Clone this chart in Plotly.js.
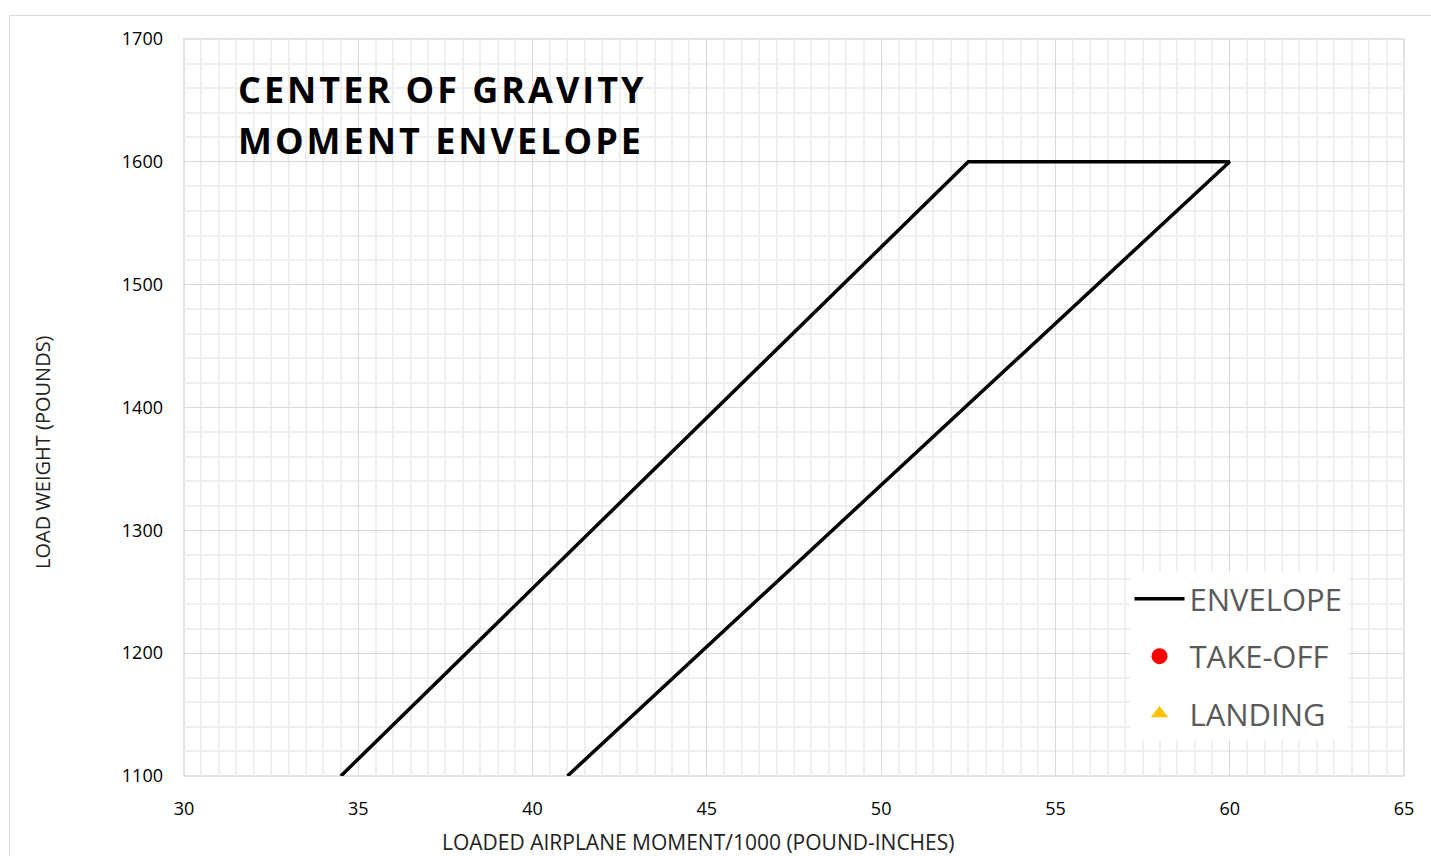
<!DOCTYPE html>
<html><head><meta charset="utf-8">
<script src="https://cdn.plot.ly/plotly-3.0.1.min.js"></script>
<style>
html,body{margin:0;padding:0;background:#fff;}
#frame{position:absolute;left:9px;top:15px;width:1440px;height:900px;border:1.5px solid #d9d9d9;box-sizing:border-box;}
#chart{position:absolute;left:0;top:0;width:1431px;height:856px;}
.annotation-text{letter-spacing:3px;}
</style></head>
<body>
<div id="frame"></div>
<div id="chart"></div>
<script>
// Envelope vertices (moment/1000, weight)
const envelopeMoment = [34.5, 52.5, 60, 41];
const envelopeWeight = [1100, 1600, 1600, 1100];
const takeoffMoment = [null];
const takeoffWeight = [null];
const landingMoment = [null];
const landingWeight = [null];
const titleLines = ["CENTER OF GRAVITY", "MOMENT ENVELOPE"];
const xTitle = "LOADED AIRPLANE MOMENT/1000 (POUND-INCHES)";
const yTitle = "LOAD WEIGHT (POUNDS)";

const traces = [
  {x: envelopeMoment, y: envelopeWeight, mode: 'lines', name: 'ENVELOPE', legendgroup: 'a',
   line: {color: '#000', width: 3.5}},
  {x: takeoffMoment, y: takeoffWeight, mode: 'markers', name: 'TAKE-OFF', legendgroup: 'b',
   marker: {color: '#ff0000', symbol: 'circle', size: 16}},
  {x: landingMoment, y: landingWeight, mode: 'markers', name: 'LANDING', legendgroup: 'c',
   marker: {color: '#ffc000', symbol: 'triangle-up', size: 15}}
];

const layout = {
  width: 1431, height: 856,
  margin: {l: 184, r: 27, t: 39, b: 80},
  paper_bgcolor: 'rgba(0,0,0,0)', plot_bgcolor: '#fff',
  font: {family: 'Open Sans, sans-serif', color: '#000'},
  showlegend: true,
  legend: {x: 0.775, y: 0.2765, xanchor: 'left', yanchor: 'top',
    bgcolor: '#fff', borderwidth: 0, font: {size: 31, color: '#595959'},
    itemwidth: 50, tracegroupgap: 14},
  xaxis: {range: [30, 65], dtick: 5, tick0: 30, showline: false, zeroline: false,
    gridcolor: '#d9d9d9', gridwidth: 1,
    minor: {dtick: 0.5, showgrid: true, gridcolor: '#efefef', gridwidth: 1.5},
    tickfont: {size: 18, color: '#000'}, ticks: '', ticklabelstandoff: 20},
  yaxis: {range: [1100, 1700], dtick: 100, showline: false, zeroline: false,
    gridcolor: '#d9d9d9', gridwidth: 1,
    minor: {dtick: 20, showgrid: true, gridcolor: '#efefef', gridwidth: 1.5},
    tickfont: {size: 18, color: '#000'}, ticks: '', ticklabelstandoff: 20},
  shapes: [
    {type: 'rect', xref: 'paper', yref: 'paper', x0: 0, x1: 1, y0: 0, y1: 1,
     line: {color: '#d9d9d9', width: 1.5}, fillcolor: 'rgba(0,0,0,0)', layer: 'below'}
  ],
  annotations: [
    {xref: 'paper', yref: 'paper', x: 0.043, y: (776 - 89) / 737, xanchor: 'left', yanchor: 'middle',
     showarrow: false, text: '<b>' + titleLines[0] + '</b>',
     font: {size: 36, color: '#000', family: 'Open Sans, sans-serif'}},
    {xref: 'paper', yref: 'paper', x: 0.043, y: (776 - 140) / 737, xanchor: 'left', yanchor: 'middle',
     showarrow: false, text: '<b>' + titleLines[1] + '</b>',
     font: {size: 36, color: '#000', family: 'Open Sans, sans-serif'}},
    {xref: 'paper', yref: 'paper', x: (698 - 184) / 1220, y: (776 - 842) / 737, xanchor: 'center', yanchor: 'middle',
     showarrow: false, text: xTitle,
     font: {size: 21, color: '#222', family: 'Open Sans, sans-serif'}},
    {xref: 'paper', yref: 'paper', x: (42 - 184) / 1220, y: (776 - 452) / 737, xanchor: 'center', yanchor: 'middle',
     showarrow: false, text: yTitle, textangle: -90,
     font: {size: 20, color: '#222', family: 'Open Sans, sans-serif'}}
  ]
};

Plotly.newPlot('chart', traces, layout, {displayModeBar: false}).then(function(gd){
  const anns = document.querySelectorAll('.annotation');
  for (let i = 2; i < anns.length; i++) {
    const t = anns[i].querySelector('.annotation-text');
    if (t) t.style.letterSpacing = '0px';
  }
});
</script>
</body></html>
